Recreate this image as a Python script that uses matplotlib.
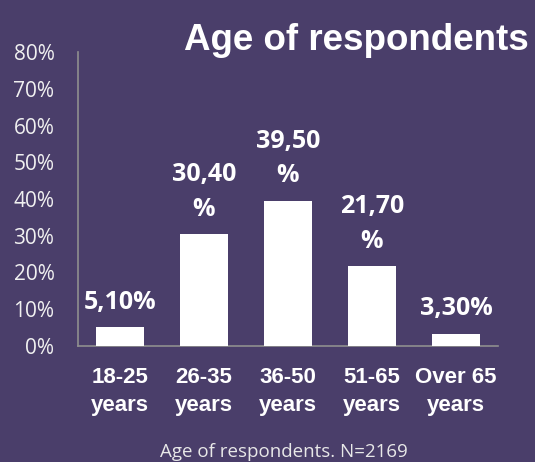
import matplotlib.pyplot as plt

categories = ['18-25\nyears', '26-35\nyears', '36-50\nyears', '51-65\nyears', 'Over 65\nyears']
values = [5.10, 30.40, 39.50, 21.70, 3.30]
value_labels = ['5,10%', '30,40\n%', '39,50\n%', '21,70\n%', '3,30%']
yticks = [0, 10, 20, 30, 40, 50, 60, 70, 80]

bg = '#4a3e6a'

fig = plt.figure(figsize=(5.35, 4.62), dpi=100, facecolor=bg)
ax = fig.add_axes([0.1458, 0.2511, 0.785, 0.6363], facecolor=bg)

x = range(len(categories))
bars = ax.bar(x, values, width=0.57, color='white', zorder=3)
ax.set_xlim(-0.5, len(categories) - 0.5)
ax.set_ylim(0, 80)

for b, lab in zip(bars, value_labels):
    ax.annotate(lab, (b.get_x() + b.get_width() / 2, b.get_height()),
                xytext=(0, 9), textcoords='offset points', ha='center', va='bottom',
                color='white', fontsize=18, fontweight='bold', family='Open Sans',
                linespacing=1.5)

ax.set_yticks(yticks)
ax.set_yticklabels([f'{t}%' for t in yticks], color='#f0f0f0', fontsize=15, family='Open Sans')
ax.set_xticks(list(x))
ax.set_xticklabels(categories, color='white', fontsize=16, fontweight='bold',
                   family='Liberation Sans', linespacing=1.45)
ax.tick_params(axis='both', length=0)
ax.tick_params(axis='y', pad=17)
ax.tick_params(axis='x', pad=15)

for s in ['top', 'right']:
    ax.spines[s].set_visible(False)
for s in ['left', 'bottom']:
    ax.spines[s].set_color('#8f8f8f')
    ax.spines[s].set_linewidth(1.2)

fig.text(0.667, 0.913, 'Age of respondents', ha='center', va='center', color='white',
         fontsize=26.5, fontweight='bold', family='Liberation Sans')
fig.text(0.53, 0.022, 'Age of respondents. N=2169', ha='center', va='center',
         color='#e8e8e8', fontsize=13.5, family='Open Sans')

fig.savefig('out.png', dpi=100, facecolor=bg)
